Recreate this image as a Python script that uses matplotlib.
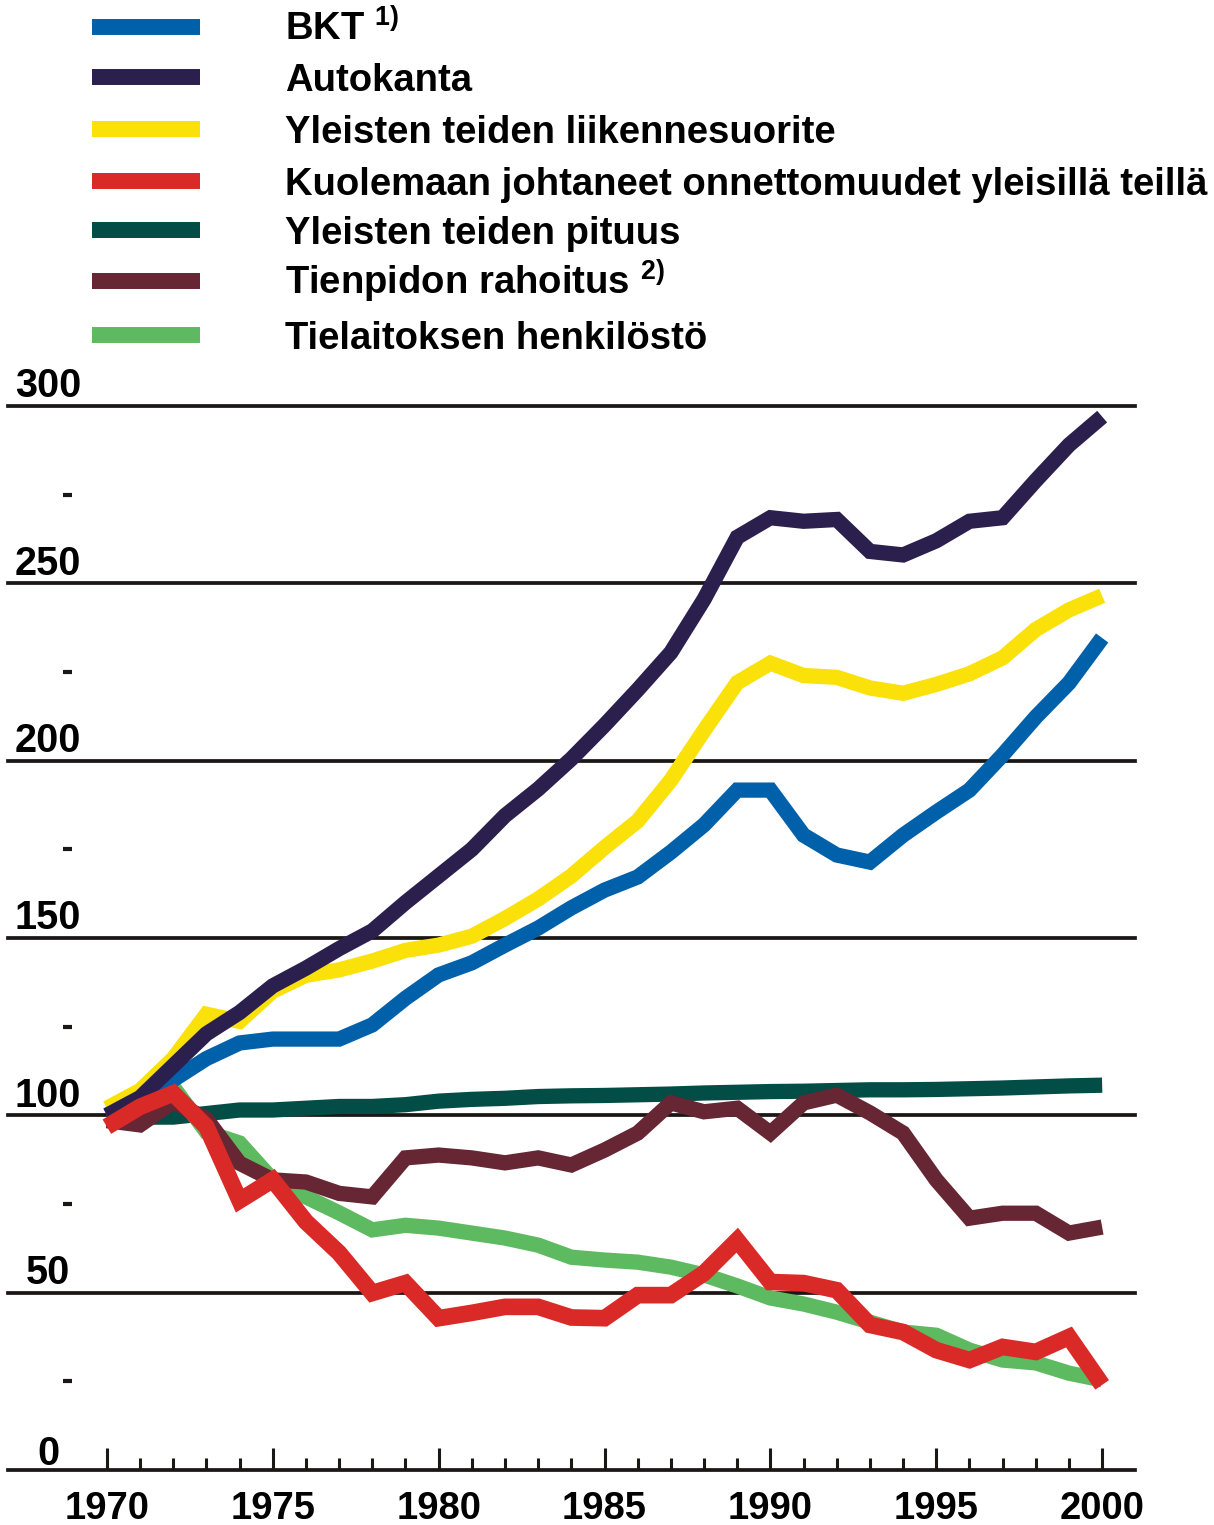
import numpy as np
import matplotlib
matplotlib.use("Agg")
import matplotlib.pyplot as plt
from matplotlib.lines import Line2D

plt.rcParams['font.family'] = ['Liberation Sans', 'DejaVu Sans']
plt.rcParams['font.weight'] = 'bold'
plt.rcParams['mathtext.fontset'] = 'custom'
plt.rcParams['mathtext.rm'] = 'Liberation Sans:bold'
plt.rcParams['mathtext.it'] = 'Liberation Sans:bold'
plt.rcParams['mathtext.bf'] = 'Liberation Sans:bold'

years = list(range(1970, 2001))

bkt = [100, 104, 110, 116, 120.4, 121.5, 121.5, 121.5, 125.5, 133, 139.6, 143, 148, 152.8,
       158.5, 163.5, 167.2, 174.2, 181.9, 191.7, 191.7, 179, 173.4, 171.4, 179, 185.5,
       191.7, 201.6, 212.3, 221.9, 234.6]
autokanta = [100, 105, 114, 123, 129, 136.5, 141.5, 147, 152, 160, 167.5, 175, 184.5, 192,
             200.5, 210, 220, 230.5, 245.5, 263, 268.5, 267.5, 268, 259, 258, 262, 267.5,
             268.5, 279, 289, 297]
liikenne = [102, 107, 116, 128.5, 126.5, 135, 139.5, 141, 143.5, 146.5, 148, 150.5, 155.5,
            161, 167.5, 175.5, 183, 194.5, 208.5, 222, 227.5, 224, 223.5, 220.5, 219, 221.5,
            224.5, 229, 237, 242.5, 246.5]
kuolemaan = [96.8, 102.4, 106.2, 96.8, 76, 81.8, 70, 61.2, 49.9, 52.7, 42.8, 44.3, 46, 46,
             43, 42.8, 49.3, 49.3, 55.5, 64.8, 53, 52.7, 50.7, 40.9, 38.9, 33.8, 31, 34.7,
             33.3, 37.5, 24]
pituus = [99.5, 99.5, 99.5, 100.5, 101.5, 101.5, 102, 102.5, 102.5, 103, 104, 104.5, 104.8,
          105.3, 105.5, 105.6, 105.8, 106, 106.3, 106.5, 106.7, 106.8, 107, 107.2, 107.2,
          107.3, 107.5, 107.7, 108, 108.3, 108.5]
rahoitus = [98.5, 97.3, 103.8, 99, 86.5, 81.8, 81.2, 78, 77, 88, 88.8, 88, 86.6, 88, 86,
            90.2, 95, 103.5, 101, 102, 95, 103.5, 105.7, 100.7, 95, 81.8, 71, 72.4, 72.4,
            66.8, 68.5]
henkilosto = [100, 103, 108, 95.3, 92.2, 81.8, 77, 72.5, 67.7, 69, 68.2, 66.8, 65.4, 63.4,
              60, 59.2, 58.6, 57.2, 55, 51.9, 48.5, 46.8, 44.5, 41.7, 38.9, 38, 33.8, 31,
              30.2, 27.3, 25.4]

labels = ['BKT $^{1)}$', 'Autokanta', 'Yleisten teiden liikennesuorite',
          'Kuolemaan johtaneet onnettomuudet yleisillä teillä', 'Yleisten teiden pituus',
          'Tienpidon rahoitus $^{2)}$', 'Tielaitoksen henkilöstö']
series = [bkt, autokanta, liikenne, kuolemaan, pituus, rahoitus, henkilosto]
colors = ['#0061AA', '#2B1F4D', '#FAE10A', '#DA2A27', '#024D45', '#662634', '#5EBA60']
zorders = [5, 7, 6, 8, 2, 4, 3]
widths = [11, 11, 11, 12, 11, 11, 11]

yticks_major = [0, 50, 100, 150, 200, 250, 300]
yticks_minor = [25, 75, 125, 175, 225, 275]
xticks_major = [1970, 1975, 1980, 1985, 1990, 1995, 2000]

W, H = 1214, 1525
fig = plt.figure(figsize=(W / 100, H / 100), dpi=100)
ax = fig.add_axes([8 / W, (H - 1470) / H, (1135 - 8) / W, (1470 - 406) / H])
ax.set_xlim(1967.02, 2000.99)
ax.set_ylim(0, 300)

for v in yticks_major[1:]:
    ax.axhline(v, color='#1a1715', lw=2.7, zorder=1, clip_on=False)

for s, c, z, w in zip(series, colors, zorders, widths):
    ax.plot(years, s, color=c, lw=w, zorder=z, solid_joinstyle='miter',
            solid_capstyle='butt', clip_on=False)

for sp in ['top', 'right', 'left']:
    ax.spines[sp].set_visible(False)
ax.spines['bottom'].set_linewidth(2.7)
ax.spines['bottom'].set_color('#1a1715')

ax.set_yticks([])
ax.set_xticks(xticks_major)
ax.set_xticks(years, minor=True)
ax.tick_params(axis='x', which='major', direction='in', length=16, width=2.2,
               color='#1a1715', pad=15, labelsize=27.5)
ax.tick_params(axis='x', which='minor', direction='in', length=9, width=2.2,
               color='#1a1715')
for lab in ax.get_xticklabels():
    lab.set_fontweight('bold')

trans = ax.get_yaxis_transform()
for v in yticks_major:
    off = 1.5 if v == 0 else 2.4
    ax.text((48 - 8) / (1135 - 8), v + off, str(v), transform=trans, ha='center',
            va='baseline', fontsize=28.5, fontweight='bold', color='black')
for v in yticks_minor:
    ax.plot([(63 - 8) / (1135 - 8), (72 - 8) / (1135 - 8)], [v, v], transform=trans,
            color='#1a1715', lw=3, solid_capstyle='butt', clip_on=False)

# legend
leg_y = [27, 77, 129, 181, 230, 281, 335]
for lab, c, y in zip(labels, colors, leg_y):
    fig.add_artist(Line2D([92 / W, 200 / W], [1 - y / H, 1 - y / H], color=c, lw=11.5,
                          solid_capstyle='butt'))
    fig.text(285 / W, 1 - (y + 14) / H, lab, fontsize=27.5, fontweight='bold',
             va='baseline', ha='left', color='black')

fig.savefig('out.png', dpi=100)
